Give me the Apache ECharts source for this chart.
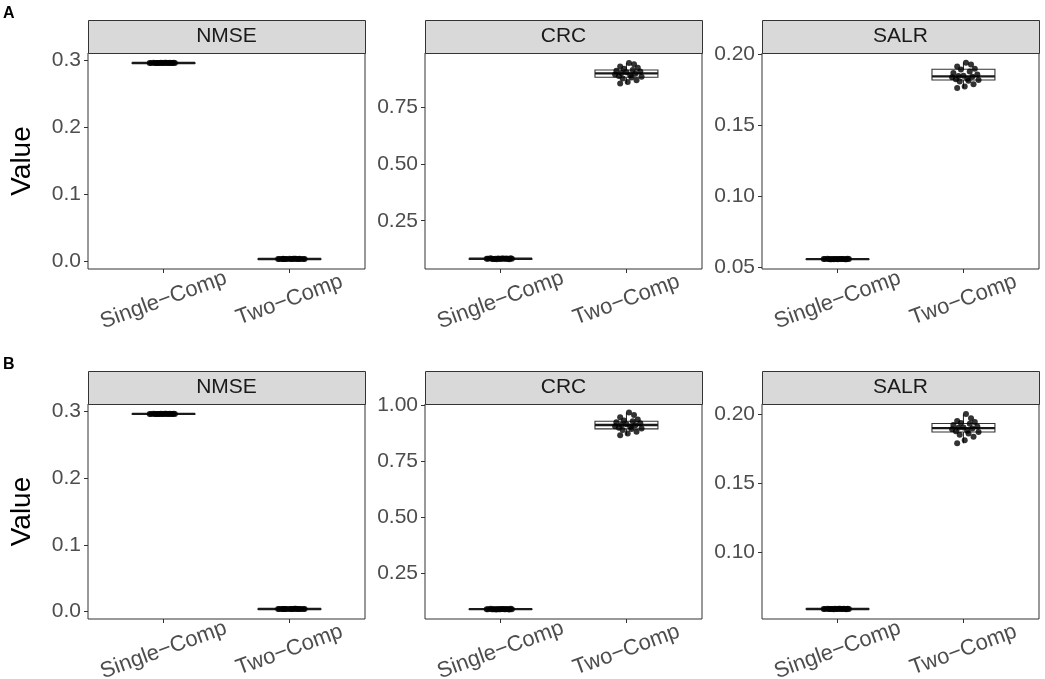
<!DOCTYPE html>
<html>
<head>
<meta charset="utf-8">
<script src="https://cdn.jsdelivr.net/npm/echarts@6/dist/echarts.min.js"></script>
<style>html,body{margin:0;padding:0;background:#fff}#c{width:1045px;height:679px}</style>
</head>
<body>
<div id="c"></div>
<script>
// ---------- data ----------
var categories = ['Single\u2212Comp', 'Two\u2212Comp'];
var metrics = ['NMSE', 'CRC', 'SALR'];
var rowLabels = ['A', 'B'];

// y tick labels per metric and row
var ticksA_NMSE = [0.0, 0.1, 0.2, 0.3];
var ticksA_CRC = [0.25, 0.50, 0.75];
var ticksA_SALR = [0.05, 0.10, 0.15, 0.20];
var ticksB_NMSE = [0.0, 0.1, 0.2, 0.3];
var ticksB_CRC = [0.25, 0.50, 0.75, 1.00];
var ticksB_SALR = [0.10, 0.15, 0.20];
var tickDecimals = {NMSE: 1, CRC: 2, SALR: 2};

// y ranges (ggplot 5% expansion)
var rangeA_NMSE = [-0.011, 0.311];
var rangeA_CRC = [0.037, 0.99];
var rangeA_SALR = [0.0486, 0.2011];
var rangeB_NMSE = [-0.011, 0.311];
var rangeB_CRC = [0.044, 1.004];
var rangeB_SALR = [0.0515, 0.2073];

// box stats per group: [lower whisker, Q1, median, Q3, upper whisker]
var boxA_NMSE_single = [0.2958, 0.2961, 0.2962, 0.2963, 0.2966];
var boxA_NMSE_two = [0.0036, 0.0039, 0.0040, 0.0041, 0.0044];
var boxA_CRC_single = [0.080, 0.0815, 0.082, 0.0825, 0.084];
var boxA_CRC_two = [0.855, 0.883, 0.900, 0.915, 0.946];
var boxA_SALR_single = [0.0552, 0.0555, 0.0556, 0.0557, 0.0560];
var boxA_SALR_two = [0.1764, 0.1820, 0.1846, 0.1896, 0.1943];
var boxB_NMSE_single = [0.2958, 0.2961, 0.2962, 0.2963, 0.2966];
var boxB_NMSE_two = [0.0036, 0.0039, 0.0040, 0.0041, 0.0044];
var boxB_CRC_single = [0.086, 0.0875, 0.088, 0.0885, 0.090];
var boxB_CRC_two = [0.864, 0.893, 0.910, 0.927, 0.966];
var boxB_SALR_single = [0.0584, 0.0587, 0.0588, 0.0589, 0.0592];
var boxB_SALR_two = [0.1788, 0.1870, 0.1898, 0.1932, 0.2000];

// jittered points: y values and horizontal jitter offsets (category units)
var ptsA_NMSE_single = [0.2962,0.2961,0.2963,0.2962,0.2960,0.2964,0.2962,0.2961,0.2963,0.2962,0.2962,0.2961,0.2963,0.2962,0.2960,0.2964,0.2962,0.2963,0.2961,0.2962];
var ptsA_NMSE_two = [0.0040,0.0039,0.0041,0.0040,0.0038,0.0042,0.0040,0.0039,0.0041,0.0040,0.0040,0.0039,0.0041,0.0040,0.0038,0.0042,0.0040,0.0041,0.0039,0.0040];
var ptsA_CRC_single = [0.082,0.081,0.083,0.082,0.080,0.084,0.082,0.081,0.083,0.082,0.082,0.081,0.083,0.082,0.080,0.084,0.082,0.083,0.081,0.082];
var ptsA_CRC_two = [0.946,0.940,0.930,0.925,0.920,0.915,0.912,0.908,0.905,0.902,0.898,0.895,0.892,0.888,0.885,0.882,0.878,0.870,0.862,0.855];
var ptsA_SALR_single = [0.0556,0.0555,0.0557,0.0556,0.0554,0.0558,0.0556,0.0555,0.0557,0.0556,0.0556,0.0555,0.0557,0.0556,0.0554,0.0558,0.0556,0.0557,0.0555,0.0556];
var ptsA_SALR_two = [0.1943,0.1930,0.1915,0.1900,0.1895,0.1880,0.1870,0.1860,0.1850,0.1848,0.1844,0.1840,0.1830,0.1825,0.1820,0.1815,0.1810,0.1790,0.1775,0.1764];
var ptsB_NMSE_single = ptsA_NMSE_single.slice();
var ptsB_NMSE_two = ptsA_NMSE_two.slice();
var ptsB_CRC_single = [0.088,0.087,0.089,0.088,0.086,0.090,0.088,0.087,0.089,0.088,0.088,0.087,0.089,0.088,0.086,0.090,0.088,0.089,0.087,0.088];
var ptsB_CRC_two = [0.966,0.955,0.945,0.935,0.930,0.927,0.922,0.918,0.914,0.911,0.909,0.905,0.902,0.898,0.895,0.892,0.888,0.880,0.872,0.864];
var ptsB_SALR_single = [0.0588,0.0587,0.0589,0.0588,0.0586,0.0590,0.0588,0.0587,0.0589,0.0588,0.0588,0.0587,0.0589,0.0588,0.0586,0.0590,0.0588,0.0589,0.0587,0.0588];
var ptsB_SALR_two = [0.2000,0.1970,0.1950,0.1942,0.1935,0.1930,0.1920,0.1910,0.1903,0.1900,0.1895,0.1890,0.1880,0.1875,0.1870,0.1860,0.1850,0.1835,0.1810,0.1788];
var jitterSingle = [-0.10,-0.06,-0.02,0.03,0.07,-0.08,-0.04,0.00,0.05,0.09,-0.11,-0.05,0.01,0.04,-0.03,0.08,-0.07,0.02,0.06,-0.01];
var jitterTwo = [0.02,0.06,-0.05,0.09,-0.02,0.05,-0.08,0.11,0.00,-0.04,0.07,-0.09,0.03,-0.06,0.12,0.04,-0.03,0.08,0.01,-0.05];

// ---------- assembly ----------
var panels = [
  {row:0, col:0, m:'NMSE', ticks:ticksA_NMSE, range:rangeA_NMSE, boxes:[boxA_NMSE_single, boxA_NMSE_two], pts:[ptsA_NMSE_single, ptsA_NMSE_two]},
  {row:0, col:1, m:'CRC', ticks:ticksA_CRC, range:rangeA_CRC, boxes:[boxA_CRC_single, boxA_CRC_two], pts:[ptsA_CRC_single, ptsA_CRC_two]},
  {row:0, col:2, m:'SALR', ticks:ticksA_SALR, range:rangeA_SALR, boxes:[boxA_SALR_single, boxA_SALR_two], pts:[ptsA_SALR_single, ptsA_SALR_two]},
  {row:1, col:0, m:'NMSE', ticks:ticksB_NMSE, range:rangeB_NMSE, boxes:[boxB_NMSE_single, boxB_NMSE_two], pts:[ptsB_NMSE_single, ptsB_NMSE_two]},
  {row:1, col:1, m:'CRC', ticks:ticksB_CRC, range:rangeB_CRC, boxes:[boxB_CRC_single, boxB_CRC_two], pts:[ptsB_CRC_single, ptsB_CRC_two]},
  {row:1, col:2, m:'SALR', ticks:ticksB_SALR, range:rangeB_SALR, boxes:[boxB_SALR_single, boxB_SALR_two], pts:[ptsB_SALR_single, ptsB_SALR_two]}
];

var colLeft = [88, 425, 762];
var panelW = 277;
var rowTop = [53, 404];
var panelH = [216, 215];
var stripH = 33;
var FONT = "'Liberation Sans', Arial, Helvetica, sans-serif";
var LINE = '#333333';

var grids = [], xAxes = [], yAxes = [], series = [], graphics = [];

panels.forEach(function (p, i) {
  var left = colLeft[p.col], top = rowTop[p.row], h = panelH[p.row];
  grids.push({left:left, top:top, width:panelW, height:h, show:true, borderColor:LINE, borderWidth:1,
    backgroundColor:'#fff', containLabel:false, outerBoundsMode:'none'});
  xAxes.push({
    type:'value', gridIndex:i, min:0.4, max:2.6, splitLine:{show:false},
    axisLine:{show:false, onZero:false},
    axisTick:{show:true, length:4, lineStyle:{color:LINE}, customValues:[1,2]},
    axisLabel:{show:true, customValues:[1,2], rotate:20, align:'center', verticalAlign:'middle', margin:31,
      fontFamily:FONT, fontSize:22, color:'#4d4d4d',
      formatter:function (v) { return categories[Math.round(v) - 1]; }}
  });
  var dec = tickDecimals[p.m];
  yAxes.push({
    type:'value', gridIndex:i, min:p.range[0], max:p.range[1], splitLine:{show:false},
    axisLine:{show:false, onZero:false},
    axisTick:{show:true, length:4, lineStyle:{color:LINE}, customValues:p.ticks},
    axisLabel:{show:true, customValues:p.ticks, margin:7, fontFamily:FONT, fontSize:21, color:'#4d4d4d',
      formatter:function (v) { return Number(v).toFixed(dec); }}
  });
  var boxData = p.boxes.map(function (b, k) { return [k + 1].concat(b); });
  series.push({
    type:'custom', xAxisIndex:i, yAxisIndex:i, z:2, silent:true,
    data:boxData,
    renderItem:function (params, api) {
      var x = api.value(0);
      var lo = api.coord([x, api.value(1)]);
      var q1 = api.coord([x, api.value(2)]);
      var md = api.coord([x, api.value(3)]);
      var q3 = api.coord([x, api.value(4)]);
      var hi = api.coord([x, api.value(5)]);
      var hw = api.size([0.25, 0])[0];
      var st = {stroke:LINE, lineWidth:1.1, fill:null};
      return {type:'group', children:[
        {type:'line', shape:{x1:lo[0], y1:lo[1], x2:q1[0], y2:q1[1]}, style:st},
        {type:'line', shape:{x1:q3[0], y1:q3[1], x2:hi[0], y2:hi[1]}, style:st},
        {type:'rect', shape:{x:q1[0]-hw, y:q3[1], width:2*hw, height:Math.max(q1[1]-q3[1], 0.5)}, style:{stroke:LINE, lineWidth:1.1, fill:'#fff'}},
        {type:'line', shape:{x1:md[0]-hw, y1:md[1], x2:md[0]+hw, y2:md[1]}, style:{stroke:'#1a1a1a', lineWidth:2.4}}
      ]};
    }
  });
  var pd = [];
  p.pts[0].forEach(function (v, k) { pd.push([1 + jitterSingle[k], v]); });
  p.pts[1].forEach(function (v, k) { pd.push([2 + jitterTwo[k], v]); });
  series.push({type:'scatter', xAxisIndex:i, yAxisIndex:i, z:3, silent:true, symbolSize:6,
    itemStyle:{color:'#000'}, data:pd});
  // strip
  graphics.push({type:'rect', left:left, top:top - stripH, shape:{width:panelW, height:stripH},
    style:{fill:'#d9d9d9', stroke:LINE, lineWidth:1}, z:1});
  graphics.push({type:'text', x:left + panelW / 2, y:top - stripH / 2, z:2,
    style:{text:p.m, font:'21px ' + FONT, fill:'#1a1a1a', align:'center', verticalAlign:'middle'}});
});

rowLabels.forEach(function (lab, r) {
  graphics.push({type:'text', x:3, y:rowTop[r] - 47, z:2,
    style:{text:lab, font:'bold 16px ' + FONT, fill:'#000', align:'left', verticalAlign:'top'}});
  graphics.push({type:'text', x:22, y:rowTop[r] + panelH[r] / 2, rotation:Math.PI / 2, z:2,
    style:{text:'Value', font:'28px ' + FONT, fill:'#000', align:'center', verticalAlign:'middle'}});
});

var chart = echarts.init(document.getElementById('c'), null, {renderer:'canvas'});
chart.setOption({
  animation:false, backgroundColor:'#fff',
  grid:grids, xAxis:xAxes, yAxis:yAxes, series:series, graphic:graphics
});
</script>
</body>
</html>
